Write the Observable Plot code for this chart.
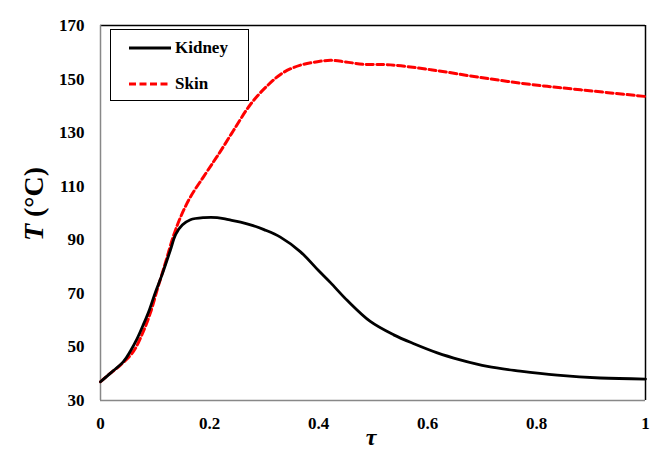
<!DOCTYPE html>
<html>
<head>
<meta charset="utf-8">
<script src="https://cdn.jsdelivr.net/npm/d3@7"></script>
<script src="https://cdn.jsdelivr.net/npm/@observablehq/plot@0.6"></script>
<style>
  html, body { margin: 0; padding: 0; background: #fff; }
  #wrap { position: relative; width: 654px; height: 452px; font-family: "Liberation Serif", "Tinos", "DejaVu Serif", "Noto Serif", serif; }
  #wrap svg, #wrap text { font-family: "Liberation Serif", "Tinos", "DejaVu Serif", "Noto Serif", serif !important; }
  #legend { position: absolute; left: 110px; top: 29px; width: 139px; height: 72px; border: 1.5px solid #000; background: #fff; box-sizing: border-box; }
  .lrow { position: absolute; left: 18px; display: flex; align-items: center; font-weight: bold; font-size: 17px; }
  .lrow svg { margin-right: 4px; }
</style>
</head>
<body>
<div id="wrap"></div>
<script>
// Data
const kidneyTau = [0, 0.02, 0.042, 0.055, 0.067, 0.079, 0.09, 0.1, 0.113, 0.128, 0.138, 0.15, 0.165, 0.19, 0.214, 0.235, 0.257, 0.28, 0.3, 0.33, 0.367, 0.4, 0.422, 0.453, 0.495, 0.538, 0.575, 0.618, 0.66, 0.71, 0.77, 0.838, 0.917, 1.0];
const kidneyT   = [37, 40.5, 44.5, 48.5, 53, 58.5, 64, 70, 77, 86, 92, 95.5, 97.5, 98.3, 98.3, 97.5, 96.6, 95.3, 93.8, 91, 85.5, 78.5, 74, 67.3, 59.5, 54.5, 51.2, 47.8, 45.2, 42.7, 41, 39.5, 38.4, 38];
const skinTau = [0, 0.013, 0.037, 0.061, 0.079, 0.092, 0.105, 0.12, 0.134, 0.147, 0.165, 0.189, 0.207, 0.22, 0.244, 0.275, 0.306, 0.336, 0.367, 0.398, 0.422, 0.45, 0.483, 0.532, 0.606, 0.697, 0.789, 0.881, 1.0];
const skinT   = [37, 39.3, 43.3, 48.5, 56, 63, 72, 82, 91.5, 98.5, 106, 113.5, 119, 123, 130.8, 140.5, 147.5, 152.5, 155.2, 156.5, 157, 156.4, 155.5, 155.3, 153.5, 150.6, 148, 146, 143.5];
const xTicks = [0, 0.2, 0.4, 0.6, 0.8, 1];
const xTickLabels = ["0", "0.2", "0.4", "0.6", "0.8", "1"];
const yTicks = [30, 50, 70, 90, 110, 130, 150, 170];
const seriesNames = ["Kidney", "Skin"];

const kidney = kidneyTau.map((t, i) => ({tau: t, T: kidneyT[i]}));
const skin = skinTau.map((t, i) => ({tau: t, T: skinT[i]}));

const serif = '"Liberation Serif", "Tinos", "DejaVu Serif", "Noto Serif", serif';

const chart = Plot.plot({
  width: 654,
  height: 452,
  marginLeft: 100,
  marginRight: 9,
  marginTop: 25,
  marginBottom: 52,
  style: { fontFamily: serif, fontWeight: "bold", fontSize: "17px", color: "#000", background: "#fff" },
  x: { domain: [0, 1], ticks: xTicks, tickFormat: (d) => xTickLabels[xTicks.indexOf(d)], tickSize: 0, tickPadding: 16, label: null },
  y: { domain: [30, 170], ticks: yTicks, tickSize: 0, tickPadding: 16, label: null },
  marks: [
    Plot.ruleY([170], {stroke: "#000", strokeWidth: 1.5}),
    Plot.ruleX([1], {stroke: "#000", strokeWidth: 1.5}),
    Plot.ruleX([0], {stroke: "#888", strokeWidth: 1.5}),
    Plot.ruleY([30], {stroke: "#888", strokeWidth: 1.5}),
    Plot.line(skin, {x: "tau", y: "T", stroke: "#ff0000", strokeWidth: 3, strokeDasharray: "7,3.5", curve: "catmull-rom"}),
    Plot.line(kidney, {x: "tau", y: "T", stroke: "#000", strokeWidth: 2.8, curve: "catmull-rom"})
  ]
});

const wrap = document.getElementById("wrap");
wrap.appendChild(chart);

// axis titles
const ns = "http://www.w3.org/2000/svg";
const xt = document.createElementNS(ns, "text");
xt.setAttribute("x", 371); xt.setAttribute("y", 445);
xt.setAttribute("text-anchor", "middle");
xt.setAttribute("font-size", "24"); xt.setAttribute("font-weight", "bold"); xt.setAttribute("font-style", "italic");
xt.textContent = "τ";
chart.appendChild(xt);

const yt = document.createElementNS(ns, "text");
yt.setAttribute("transform", "translate(43,204) rotate(-90)");
yt.setAttribute("text-anchor", "middle");
yt.setAttribute("font-size", "28"); yt.setAttribute("font-weight", "bold");
const ts1 = document.createElementNS(ns, "tspan"); ts1.setAttribute("font-style", "italic"); ts1.textContent = "T";
const ts2 = document.createElementNS(ns, "tspan"); ts2.textContent = " (°C)";
yt.appendChild(ts1); yt.appendChild(ts2);
chart.appendChild(yt);

// legend
const legend = document.createElement("div");
legend.id = "legend";
const styles = [{stroke: "#000", dash: null, top: 8}, {stroke: "#ff0000", dash: "7,3.5", top: 44}];
seriesNames.forEach((name, i) => {
  const row = document.createElement("div");
  row.className = "lrow";
  row.style.top = styles[i].top + "px";
  row.innerHTML = `<svg width="42" height="20"><line x1="0" y1="10" x2="42" y2="10" stroke="${styles[i].stroke}" stroke-width="3" ${styles[i].dash ? `stroke-dasharray="${styles[i].dash}"` : ""}/></svg><span>${name}</span>`;
  legend.appendChild(row);
});
wrap.appendChild(legend);
</script>
</body>
</html>
